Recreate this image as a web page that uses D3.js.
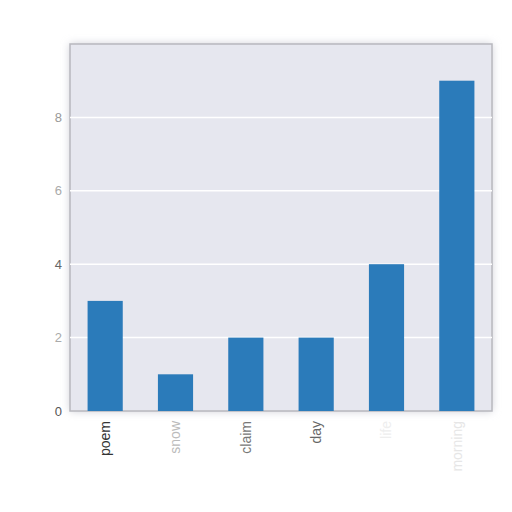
<!DOCTYPE html>
<html>
<head>
<meta charset="utf-8">
<script src="https://cdn.jsdelivr.net/npm/d3@7"></script>
<style>
  body { margin: 0; background: #fff; }
  svg { display: block; font-family: "DejaVu Sans", sans-serif; }
</style>
</head>
<body>
<svg id="chart" width="512" height="512"></svg>
<script>
// chart data
const words = ['poem', 'snow', 'claim', 'day', 'life', 'morning'];
const counts = [3, 1, 2, 2, 4, 9];
const yTicks = [0, 2, 4, 6, 8];
// label shades as they appear (some labels are almost washed out)
const labelColors = ['#333', '#bbb', '#777', '#666', '#eee', '#e6e6e6'];
const tickColors = ['#555', '#aaa', '#666', '#aaa', '#999'];

const margin = {top: 44, right: 20, bottom: 101, left: 70};
const w = 512, h = 512;
const svg = d3.select('#chart');

let x = d3.scaleBand().domain(words)
  .range([margin.left, w - margin.right])
  .paddingInner(0.5).paddingOuter(0.25);
let y = d3.scaleLinear().domain([0, 10]).range([h - margin.bottom, margin.top]);

// soft shadow round the plot area
let defs = svg.append('defs');
defs.append('filter').attr('id', 'blur')
  .attr('x', '-10%').attr('y', '-10%').attr('width', '120%').attr('height', '120%')
  .append('feGaussianBlur').attr('stdDeviation', 4);

svg.append('rect')
  .attr('x', margin.left).attr('y', margin.top)
  .attr('width', w - margin.left - margin.right)
  .attr('height', h - margin.top - margin.bottom)
  .attr('fill', '#c9cad3')
  .attr('filter', 'url(#blur)');

svg.append('rect')
  .attr('x', margin.left).attr('y', margin.top)
  .attr('width', w - margin.left - margin.right)
  .attr('height', h - margin.top - margin.bottom)
  .attr('fill', '#e6e7ef')
  .attr('stroke', '#b8b8be')
  .attr('stroke-width', 1.5);

// grid
svg.append('g')
  .selectAll('line')
  .data(yTicks.filter(d => d > 0))
  .enter().append('line')
  .attr('x1', margin.left).attr('x2', w - margin.right)
  .attr('y1', d => y(d)).attr('y2', d => y(d))
  .attr('stroke', '#fff').attr('stroke-width', 1.5);

// bars
svg.append('g')
  .selectAll('rect')
  .data(counts)
  .enter().append('rect')
  .attr('x', (d, i) => x(words[i]))
  .attr('y', d => y(d))
  .attr('width', x.bandwidth())
  .attr('height', d => y(0) - y(d))
  .attr('fill', '#2b7bba');

// y axis
let yAxis = svg.append('g')
  .attr('transform', `translate(${margin.left},0)`)
  .call(d3.axisLeft(y).tickValues(yTicks).tickSize(0).tickPadding(8));
yAxis.select('.domain').remove();
yAxis.selectAll('text')
  .attr('font-size', 13)
  .attr('fill', (d, i) => tickColors[i]);

// x axis
let xAxis = svg.append('g')
  .attr('transform', `translate(0,${h - margin.bottom})`)
  .call(d3.axisBottom(x).tickSize(0).tickPadding(0));
xAxis.select('.domain').remove();
xAxis.selectAll('text')
  .attr('font-size', 14)
  .attr('fill', (d, i) => labelColors[i])
  .attr('text-anchor', 'end')
  .attr('dy', '0.35em')
  .attr('transform', 'translate(0,10) rotate(-90)')
  .attr('x', 0).attr('y', 0);
</script>
</body>
</html>
